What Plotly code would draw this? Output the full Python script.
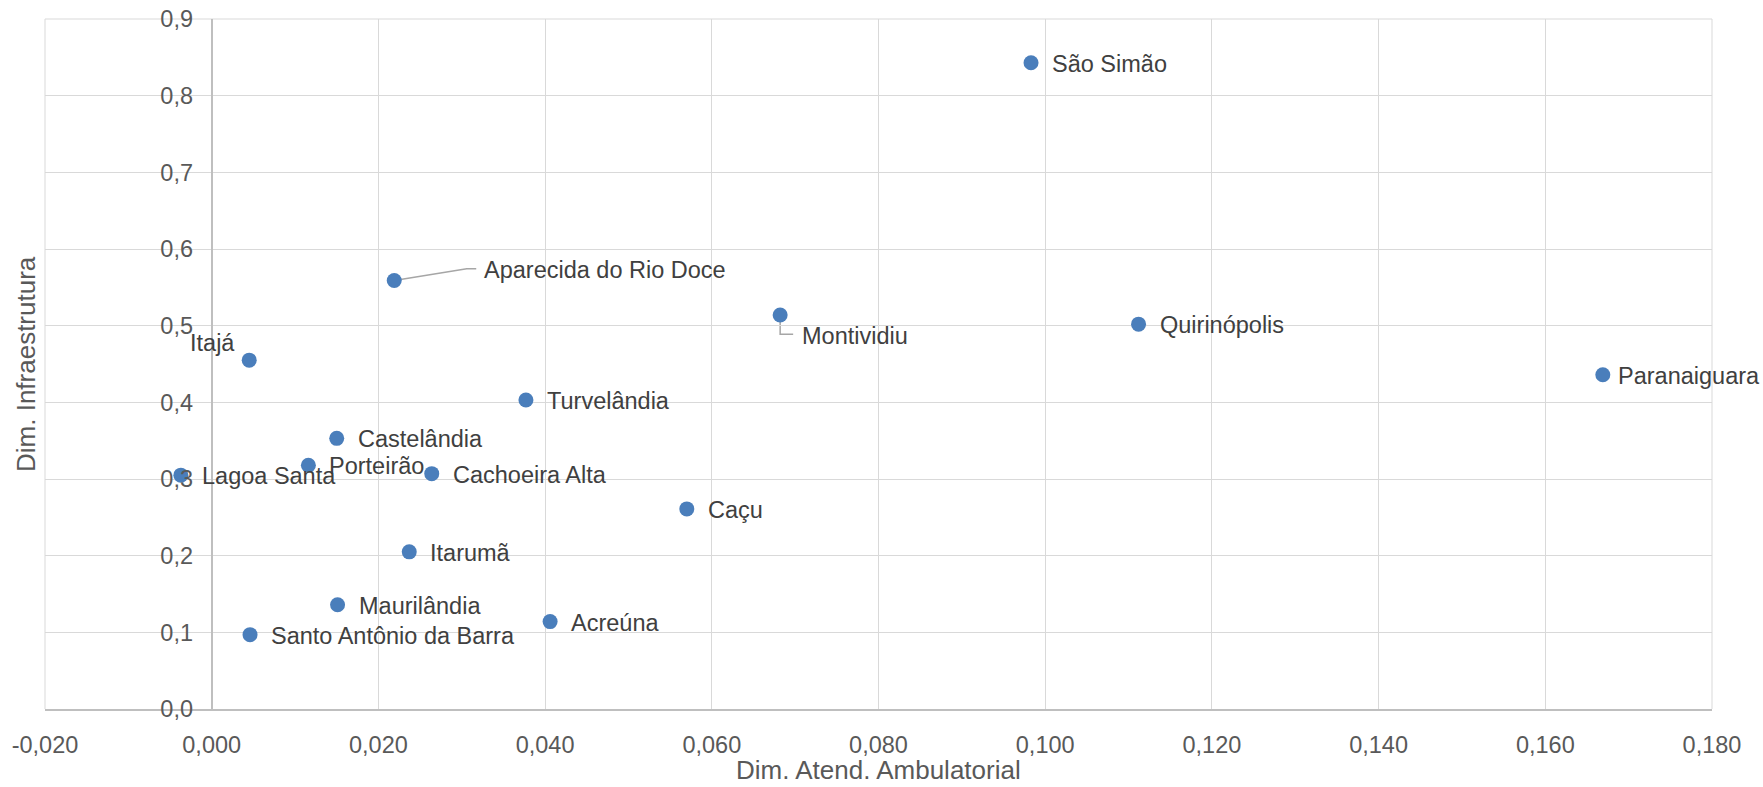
import plotly.graph_objects as go

# ---------------- data ----------------
municipios = ["São Simão", "Aparecida do Rio Doce", "Montividiu", "Quirinópolis",
              "Paranaiguara", "Itajá", "Turvelândia", "Castelândia", "Porteirão",
              "Lagoa Santa", "Cachoeira Alta", "Caçu", "Itarumã", "Maurilândia",
              "Acreúna", "Santo Antônio da Barra"]
atend_ambulatorial = [0.0983, 0.0219, 0.0682, 0.1112,
                      0.1669, 0.0045, 0.0377, 0.0150, 0.0116,
                      -0.0037, 0.0264, 0.0570, 0.0237, 0.0151,
                      0.0406, 0.0046]
infraestrutura = [0.843, 0.559, 0.514, 0.502,
                  0.436, 0.455, 0.403, 0.353, 0.318,
                  0.305, 0.307, 0.261, 0.205, 0.136,
                  0.114, 0.097]

x_tick_vals = [-0.02, 0.0, 0.02, 0.04, 0.06, 0.08, 0.10, 0.12, 0.14, 0.16, 0.18]
x_tick_text = ["-0,020", "0,000", "0,020", "0,040", "0,060", "0,080",
               "0,100", "0,120", "0,140", "0,160", "0,180"]
y_tick_vals = [0.0, 0.1, 0.2, 0.3, 0.4, 0.5, 0.6, 0.7, 0.8, 0.9]
y_tick_text = ["0,0", "0,1", "0,2", "0,3", "0,4", "0,5", "0,6", "0,7", "0,8", "0,9"]

x_title = "Dim. Atend. Ambulatorial"
y_title = "Dim. Infraestrutura"

# ---------------- style ----------------
FONT = "Liberation Sans, Arial, sans-serif"
TXT = "#595959"
GRID = "#d9d9d9"
AXIS = "#bfbfbf"
MARK = "#4a7ebb"
W, H = 1763, 787
ML, MR, MT, MB = 45, 51, 19, 78

# label placement (pixel offsets from the marker centre): (xanchor, xshift, yshift)
label_style = {name: ("left", 19, -1) for name in municipios}
label_style["Itajá"] = ("right", -12, 17)
label_style["Aparecida do Rio Doce"] = ("left", 88, 10)
label_style["Montividiu"] = ("left", 20, -21)
label_style["Paranaiguara"] = ("left", 13, -1)
leader_paths = {
    "Aparecida do Rio Doce": "M 0 0 L 72.5 11.7 L 82 11.7",
    "Montividiu": "M 0 0 L 0 -19.3 L 13 -19.3",
}

fig = go.Figure()
fig.add_trace(go.Scatter(
    x=atend_ambulatorial, y=infraestrutura, mode="markers",
    marker=dict(size=15, color=MARK, line=dict(width=0)),
    text=municipios, hoverinfo="text", showlegend=False,
))

annotations = []
for name, xv, yv in zip(municipios, atend_ambulatorial, infraestrutura):
    xa, xs, ys = label_style[name]
    annotations.append(dict(
        x=xv, y=yv, xref="x", yref="y", text=name, showarrow=False,
        xanchor=xa, yanchor="middle", xshift=xs, yshift=ys,
        font=dict(family=FONT, size=23.5, color="#404040"),
    ))

shapes = []
for name, xv, yv in zip(municipios, atend_ambulatorial, infraestrutura):
    if name in leader_paths:
        shapes.append(dict(
            type="path", xref="x", yref="y", xsizemode="pixel", ysizemode="pixel",
            xanchor=xv, yanchor=yv, path=leader_paths[name],
            line=dict(color="#a6a6a6", width=1.5), layer="below",
        ))

# plot-area frame (grid lines at the range ends)
for x0, y0, x1, y1 in [(0, 0, 0, 1), (1, 0, 1, 1), (0, 1, 1, 1)]:
    shapes.append(dict(
        type="line", xref="paper", yref="paper", x0=x0, y0=y0, x1=x1, y1=y1,
        line=dict(color=GRID, width=1), layer="below",
    ))

annotations.append(dict(
    x=0.5, y=-0.1126, xref="paper", yref="paper", text=x_title, showarrow=False,
    xanchor="center", yanchor="bottom",
    font=dict(family=FONT, size=26, color=TXT),
))
annotations.append(dict(
    x=-0.0114, y=0.5, xref="paper", yref="paper", text=y_title, showarrow=False,
    xanchor="center", yanchor="middle", textangle=-90,
    font=dict(family=FONT, size=26, color=TXT),
))

fig.update_layout(
    width=W, height=H, autosize=False,
    margin=dict(l=ML, r=MR, t=MT, b=MB, pad=0, autoexpand=False),
    paper_bgcolor="white", plot_bgcolor="white",
    font=dict(family=FONT, size=23.5, color=TXT),
    annotations=annotations, shapes=shapes,
    xaxis=dict(
        range=[x_tick_vals[0], x_tick_vals[-1]],
        tickvals=x_tick_vals, ticktext=x_tick_text,
        automargin=False, ticklabeloverflow="allow",
        showgrid=True, gridcolor=GRID, gridwidth=1,
        zeroline=True, zerolinecolor=AXIS, zerolinewidth=1.5,
        showline=True, linecolor=AXIS, linewidth=1.5,
        ticks="outside", ticklen=14, tickcolor="rgba(0,0,0,0)",
        tickfont=dict(family=FONT, size=23.5, color=TXT),
    ),
    yaxis=dict(
        range=[y_tick_vals[0], y_tick_vals[-1]],
        tickvals=y_tick_vals, ticktext=y_tick_text,
        anchor="free", position=0.1, automargin=False, ticklabeloverflow="allow",
        showgrid=True, gridcolor=GRID, gridwidth=1,
        zeroline=False, showline=False,
        ticks="outside", ticklen=14, tickcolor="rgba(0,0,0,0)",
        tickfont=dict(family=FONT, size=23.5, color=TXT),
    ),
)

# remove the default 8px page margin so the figure fills the window exactly
fig.write_html("out.html", config={"displayModeBar": False},
               post_script="document.body.style.margin='0px';")
